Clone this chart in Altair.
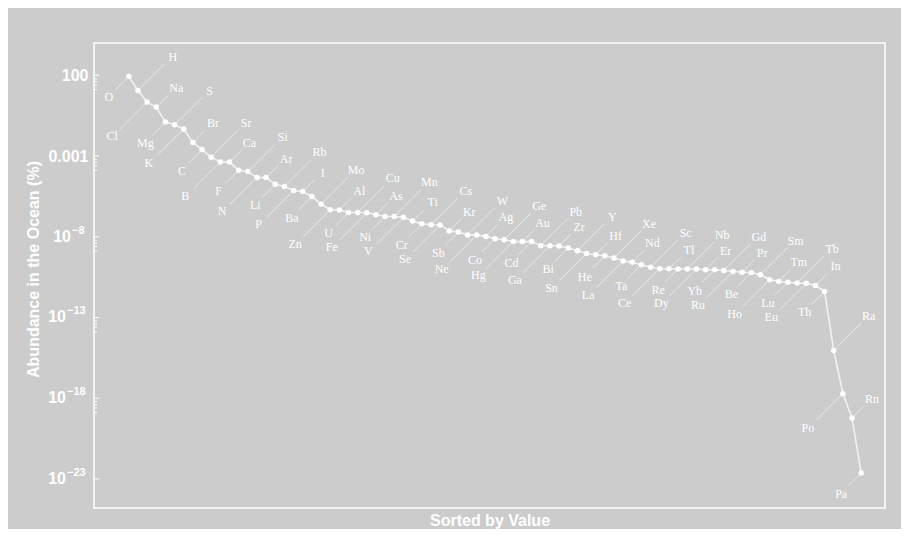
import math
import altair as alt
import pandas as pd

# Elements sorted by ocean abundance (descending)
elements = [
    "O", "H", "Cl", "Na", "Mg", "S", "K", "Br", "C", "Sr",
    "B", "Ca", "F", "Si", "N", "Ar", "Li", "Rb", "P", "I",
    "Ba", "Mo", "Zn", "Al", "U", "Cu", "Fe", "As", "Ni", "Mn",
    "V", "Ti", "Cr", "Cs", "Se", "Kr", "Sb", "W", "Ne", "Ag",
    "Co", "Ge", "Hg", "Au", "Cd", "Pb", "Ga", "Zr", "Bi", "Y",
    "Sn", "Hf", "He", "Xe", "La", "Nd", "Ta", "Sc", "Ce", "Tl",
    "Re", "Nb", "Dy", "Er", "Yb", "Gd", "Ru", "Pr", "Be", "Sm",
    "Ho", "Tm", "Lu", "Tb", "Eu", "In", "Th", "Ra", "Po", "Rn",
    "Pa",
]

# Abundance in the ocean (%)
abundance = [
    86, 11.4, 2.19, 1.07, 0.126, 0.086, 0.047, 0.0069, 0.0025, 8.5e-4,
    4.3e-4, 4.2e-4, 1.3e-4, 1.1e-4, 4.7e-5, 4.6e-5, 1.8e-5, 1.3e-5, 7.4e-6, 6.3e-6,
    3.1e-6, 1.05e-6, 4.7e-7, 4.6e-7, 3.2e-7, 3.2e-7, 3.1e-7, 2.3e-7, 1.8e-7, 1.8e-7,
    1.6e-7, 9.3e-8, 6.3e-8, 5.5e-8, 5.4e-8, 2.3e-8, 1.95e-8, 1.3e-8, 1.3e-8, 1.05e-8,
    7.5e-9, 6.5e-9, 5.1e-9, 5.0e-9, 5.0e-9, 2.8e-9, 2.8e-9, 2.7e-9, 2.0e-9, 1.35e-9,
    9.1e-10, 7.7e-10, 6.6e-10, 4.8e-10, 3.2e-10, 2.6e-10, 1.85e-10, 1.3e-10, 1.05e-10, 1.04e-10,
    1.0e-10, 1.0e-10, 1.0e-10, 9.1e-11, 9.0e-11, 8.1e-11, 7.1e-11, 6.3e-11, 6.0e-11, 4.5e-11,
    2.2e-11, 1.7e-11, 1.5e-11, 1.35e-11, 1.3e-11, 9.6e-12, 4.1e-12, 9.1e-16, 1.9e-18, 5.9e-20,
    2.3e-23,
]

# y axis ticks and their labels
plain_ticks = [1e2, 1e-3]
plain_labels = ["100", "0.001"]
power_ticks = [1e-8, 1e-13, 1e-18, 1e-23]
power_base = ["10", "10", "10", "10"]
power_exps = ["\u22128", "\u221213", "\u221218", "\u221223"]
minor_factors = [0.6, 0.4, 0.25, 0.13]

all_ticks = plain_ticks + power_ticks

n = len(elements)
idx = list(range(n))
# callout placement: alternate below/above, staggered short/long
groups = []
for i in idx:
    side = "b" if i % 2 == 0 else "a"
    level = "l" if i % 4 in (1, 2) else "s"
    groups.append(side + level)

df = pd.DataFrame({"idx": idx, "element": elements, "value": abundance, "grp": groups})

major_df = pd.DataFrame({"value": all_ticks})
minor_df = pd.DataFrame({"value": [v * f for v in all_ticks[:-1] for f in minor_factors]})
power_df = pd.DataFrame({
    "value": power_ticks, "base": power_base, "exp": power_exps,
    "wide": [len(e) > 2 for e in power_exps],
})

label_expr = ""
for v, lab in zip(plain_ticks, plain_labels):
    label_expr += f"abs(log(datum.value)/LN10 - ({math.log10(v)})) < 0.01 ? '{lab}' : "
label_expr += "''"

FG = "#ffffff"
SANS = "Liberation Sans"
x_scale = alt.Scale(domain=[-3.8, 82.6], nice=False, zero=False)
y_scale = alt.Scale(type="log", domain=[10 ** -24.8, 1e4], nice=False)

x_enc = alt.X("idx:Q", scale=x_scale,
              axis=alt.Axis(title="Sorted by Value", labels=False, ticks=False,
                            domain=False, grid=False, titlePadding=4,
                            titleFont=SANS, titleFontSize=16,
                            titleFontWeight="bold", titleColor=FG))
y_axis = alt.Axis(title="Abundance in the Ocean (%)", values=plain_ticks,
                  labelExpr=label_expr, ticks=False, domain=False, grid=False,
                  labelFont=SANS, labelFontSize=16,
                  labelFontWeight="bold", labelColor=FG, labelPadding=6,
                  titleX=-61, titleY=226, titleBaseline="middle",
                  titleFont=SANS, titleFontSize=16, titleFontWeight="bold",
                  titleColor=FG)
y_enc = alt.Y("value:Q", scale=y_scale, axis=y_axis)

base = alt.Chart(df).encode(x=x_enc, y=y_enc)

offsets = {
    "as": (12, -12, 20, -19),
    "al": (27, -27, 35, -34),
    "bs": (-13, 13, -20, 21),
    "bl": (-27, 27, -35, 34),
}

rule_layers = []
text_layers = []
for g, (lx, ly, tx, ty) in offsets.items():
    sub = base.transform_filter(alt.datum.grp == g)
    rule_layers.append(
        sub.mark_rule(color="#e9e9e9", strokeWidth=1, x2Offset=lx, y2Offset=ly)
        .encode(x2="idx:Q", y2="value:Q")
    )
    text_layers.append(
        sub.mark_text(dx=tx, dy=ty, font="Liberation Serif", fontSize=12,
                      color=FG, align="center", baseline="middle")
        .encode(text="element:N")
    )

line = base.mark_line(color="#f2f2f2", strokeWidth=1.6)
points = base.mark_circle(color="#ffffff", size=30, opacity=1)

major_ticks = alt.Chart(major_df).mark_rule(color=FG, strokeWidth=1).encode(
    y=y_enc, x=alt.value(0), x2=alt.value(5))
minor_ticks = alt.Chart(minor_df).mark_rule(color=FG, strokeWidth=1).encode(
    y=y_enc, x=alt.value(0), x2=alt.value(3))

pow_layers = []
for wide, base_x in ((False, -23), (True, -28)):
    sub = alt.Chart(power_df).transform_filter(alt.datum.wide == wide)
    pow_layers.append(
        sub.mark_text(font=SANS, fontSize=16, fontWeight="bold", color=FG,
                      align="right", baseline="middle")
        .encode(y=y_enc, x=alt.value(base_x), text="base:N")
    )
    pow_layers.append(
        sub.mark_text(font=SANS, fontSize=11, fontWeight="bold", color=FG,
                      align="left", baseline="middle", dy=-6)
        .encode(y=y_enc, x=alt.value(base_x + 1), text="exp:N")
    )

chart = alt.layer(
    *rule_layers, line, points, *text_layers, major_ticks, minor_ticks, *pow_layers
).properties(
    width=791, height=465,
    padding={"left": 86, "top": 35, "right": 16, "bottom": 21},
    autosize=alt.AutoSizeParams(type="none"),
).configure(background="#cccccc").configure_view(stroke="#ffffff", strokeWidth=1.5)

chart.save("out.html", embed_options={"renderer": "svg", "actions": False})
